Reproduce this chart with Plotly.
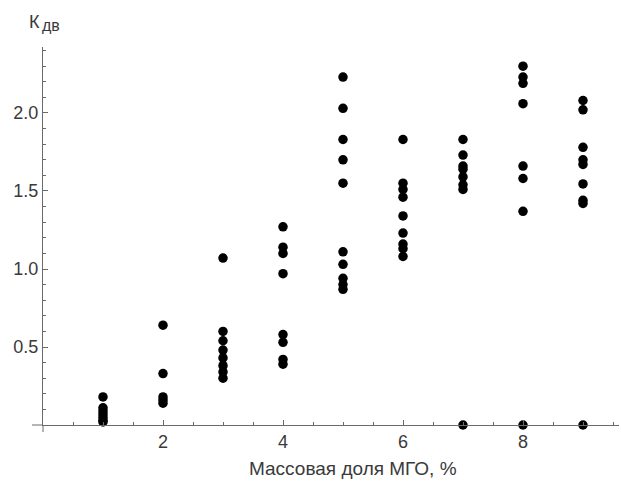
import plotly.graph_objects as go

# Data (x = mass fraction of MGO, %, y = K_дв)
x1 = [1] * 7
y1 = [0.18, 0.11, 0.09, 0.07, 0.05, 0.03, 0.02]
x2 = [2] * 5
y2 = [0.64, 0.33, 0.18, 0.16, 0.14]
x3 = [3] * 8
y3 = [1.07, 0.60, 0.54, 0.48, 0.43, 0.38, 0.34, 0.30]
x4 = [4] * 8
y4 = [1.27, 1.14, 1.10, 0.97, 0.58, 0.53, 0.42, 0.39]
x5 = [5] * 10
y5 = [2.23, 2.03, 1.83, 1.70, 1.55, 1.11, 1.03, 0.94, 0.90, 0.87]
x6 = [6] * 9
y6 = [1.83, 1.55, 1.51, 1.46, 1.34, 1.23, 1.16, 1.13, 1.08]
x7 = [7] * 8
y7 = [1.83, 1.73, 1.66, 1.64, 1.59, 1.54, 1.51, 0.0]
x8 = [8] * 8
y8 = [2.30, 2.23, 2.19, 2.06, 1.66, 1.58, 1.37, 0.0]
x9 = [9] * 9
y9 = [2.08, 2.02, 1.78, 1.70, 1.67, 1.545, 1.44, 1.42, 0.0]

xs = x1 + x2 + x3 + x4 + x5 + x6 + x7 + x8 + x9
ys = y1 + y2 + y3 + y4 + y5 + y6 + y7 + y8 + y9

x_tickvals = [2, 4, 6, 8]
y_tickvals = [0.5, 1.0, 1.5, 2.0]
y_ticktext = ["0.5", "1.0", "1.5", "2.0"]

x_title = "Массовая доля МГО, %"
y_title_main = "К"
y_title_sub = "дв"

FONT = "Liberation Sans, Arial, sans-serif"
AXIS_COLOR = "#6a6a6a"
TEXT_COLOR = "#3a3a3a"

fig = go.Figure()
fig.add_trace(go.Scatter(
    x=xs, y=ys, mode="markers",
    marker=dict(color="black", size=9.5, line=dict(width=0)),
    cliponaxis=False, showlegend=False, hoverinfo="skip",
))

fig.update_layout(
    width=621, height=481,
    margin=dict(l=43, r=2, t=47, b=56),
    plot_bgcolor="white", paper_bgcolor="white",
    font=dict(family=FONT, color=TEXT_COLOR, size=18),
    xaxis=dict(
        range=[0, 9.6], showgrid=False, zeroline=False,
        showline=True, linecolor=AXIS_COLOR, linewidth=1, mirror=False,
        ticks="inside", ticklen=5, tickcolor=AXIS_COLOR, tickwidth=1,
        tickvals=x_tickvals, ticktext=[str(v) for v in x_tickvals],
        minor=dict(ticks="inside", ticklen=3, dtick=0.5, tick0=0,
                   tickcolor=AXIS_COLOR, showgrid=False),
        tickfont=dict(size=18, color=TEXT_COLOR),
    ),
    yaxis=dict(
        range=[0, 2.423], showgrid=False, zeroline=False,
        showline=True, linecolor=AXIS_COLOR, linewidth=1, mirror=False,
        ticks="inside", ticklen=5, tickcolor=AXIS_COLOR, tickwidth=1,
        tickvals=y_tickvals, ticktext=y_ticktext,
        minor=dict(ticks="inside", ticklen=3, dtick=0.1, tick0=0,
                   tickcolor=AXIS_COLOR, showgrid=False),
        tickfont=dict(size=18, color=TEXT_COLOR),
    ),
)

# axis line extensions beyond the origin (crossing axes)
fig.add_shape(type="line", xref="paper", yref="paper",
              x0=-11 / 576, x1=0, y0=0, y1=0,
              line=dict(color=AXIS_COLOR, width=1))
fig.add_shape(type="line", xref="paper", yref="paper",
              x0=0, x1=0, y0=-7 / 378, y1=0,
              line=dict(color=AXIS_COLOR, width=1))

fig.add_annotation(text=x_title, xref="paper", yref="paper",
                   x=(353 - 43) / 576, y=-(469 - 425) / 378, showarrow=False,
                   xanchor="center", yanchor="middle",
                   font=dict(size=19, color=TEXT_COLOR, family=FONT))
fig.add_annotation(text=y_title_main, xref="paper", yref="paper",
                   x=(27 - 43) / 576, y=(425 - 22) / 378, showarrow=False,
                   xanchor="left", yanchor="middle",
                   font=dict(size=18, color=TEXT_COLOR, family=FONT))
fig.add_annotation(text=y_title_sub, xref="paper", yref="paper",
                   x=(40 - 43) / 576, y=(425 - 26) / 378, showarrow=False,
                   xanchor="left", yanchor="middle",
                   font=dict(size=16, color=TEXT_COLOR, family=FONT))

fig.write_html("out.html")
